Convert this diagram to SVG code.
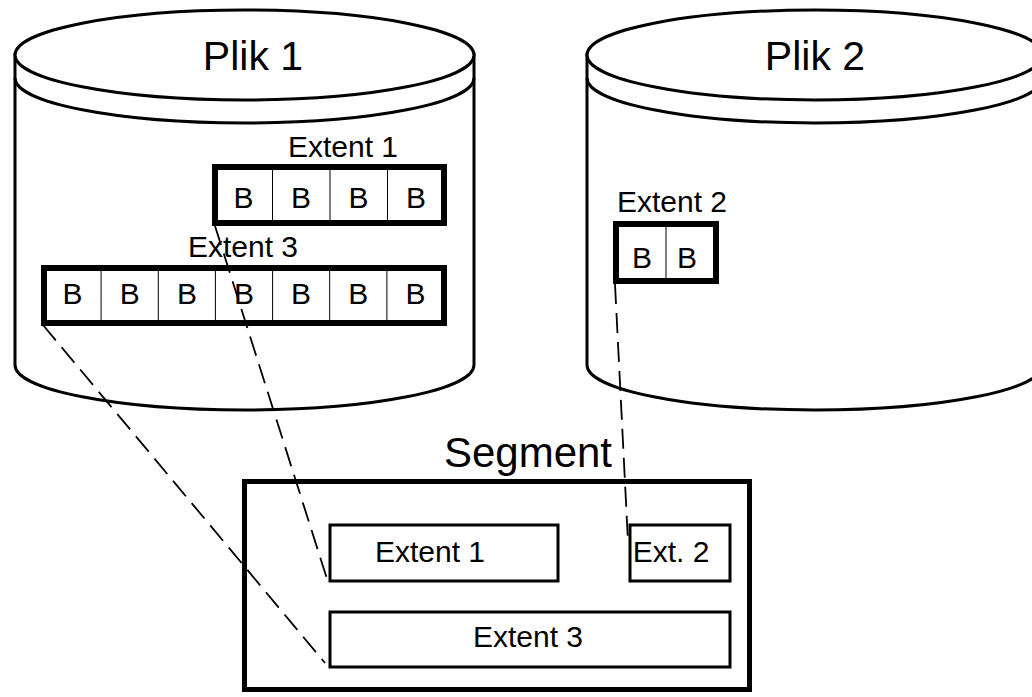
<svg xmlns="http://www.w3.org/2000/svg" width="1032" height="697" viewBox="0 0 1032 697">
<style>
.cyl{fill:#fff;stroke:#000;stroke-width:3}
.thick{fill:#fff;stroke:#000;stroke-width:6}
.seg{fill:#fff;stroke:#000;stroke-width:5}
.box{fill:#fff;stroke:#000;stroke-width:3}
.div{stroke:#000;stroke-width:1;fill:none}
.dash{stroke:#000;stroke-width:1.8;fill:none;stroke-dasharray:20 9}
text{font-family:"Liberation Sans",Arial,sans-serif;fill:#000;text-anchor:middle}
.big{font-size:41px}
.mid{font-size:30px}
</style>
<rect width="1032" height="697" fill="#fff"/>
<g id="plik1">
<path class="cyl" d="M15,55 L15,365 A229.5,45 0 0 0 474,365 L474,55 Z"/>
<ellipse class="cyl" cx="244.5" cy="55" rx="229.5" ry="45"/>
<path class="cyl" d="M15,78 A229.5,45 0 0 0 474,78" style="fill:none"/>
<text class="big" x="253" y="70">Plik 1</text>
</g>
<g id="plik2">
<path class="cyl" d="M587,55 L587,365 A228,45 0 0 0 1043,365 L1043,55 Z"/>
<ellipse class="cyl" cx="815" cy="55" rx="228" ry="45"/>
<path class="cyl" d="M587,78 A228,45 0 0 0 1043,78" style="fill:none"/>
<text class="big" x="815" y="70">Plik 2</text>
</g>
<g id="extent1-file">
<text class="mid" x="343" y="157">Extent 1</text>
<rect class="thick" x="215" y="167" width="229" height="56"/>
<path class="div" d="M272.5,170V220M330,170V220M387.5,170V220"/>
<text class="mid" x="243.5" y="208">B</text>
<text class="mid" x="301" y="208">B</text>
<text class="mid" x="358.5" y="208">B</text>
<text class="mid" x="416" y="208">B</text>
</g>
<g id="extent3-file">
<text class="mid" x="243" y="257">Extent 3</text>
<rect class="thick" x="44" y="268" width="400" height="55"/>
<path class="div" d="M101.1,271V320M158.3,271V320M215.4,271V320M272.6,271V320M329.7,271V320M386.9,271V320"/>
<text class="mid" x="72.5" y="304">B</text>
<text class="mid" x="129.7" y="304">B</text>
<text class="mid" x="186.9" y="304">B</text>
<text class="mid" x="244" y="304">B</text>
<text class="mid" x="301.1" y="304">B</text>
<text class="mid" x="358.3" y="304">B</text>
<text class="mid" x="415.4" y="304">B</text>
</g>
<g id="extent2-file">
<text class="mid" x="672" y="212">Extent 2</text>
<rect class="thick" x="616" y="224" width="100" height="57"/>
<path class="div" d="M666,227V278"/>
<text class="mid" x="642" y="268">B</text>
<text class="mid" x="687" y="268">B</text>
</g>
<g id="segment">
<text class="big" style="font-size:42px" x="528" y="467">Segment</text>
<rect class="seg" x="244.5" y="481.5" width="505" height="208"/>
</g>
<g id="seg-extent1">
<rect class="box" x="330" y="525" width="228" height="56"/>
<text class="mid" x="430" y="562">Extent 1</text>
</g>
<g id="seg-ext2">
<rect class="box" x="630" y="525" width="100" height="56"/>
<text class="mid" x="671" y="562">Ext. 2</text>
</g>
<g id="seg-extent3">
<rect class="box" x="330" y="612" width="400" height="55"/>
<text class="mid" x="528" y="647">Extent 3</text>
</g>
<g id="connectors">
<line class="dash" x1="43" y1="325" x2="325" y2="663"/>
<line class="dash" x1="215" y1="226" x2="328" y2="582"/>
<line class="dash" x1="615" y1="284" x2="628" y2="542"/>
</g>
</svg>
